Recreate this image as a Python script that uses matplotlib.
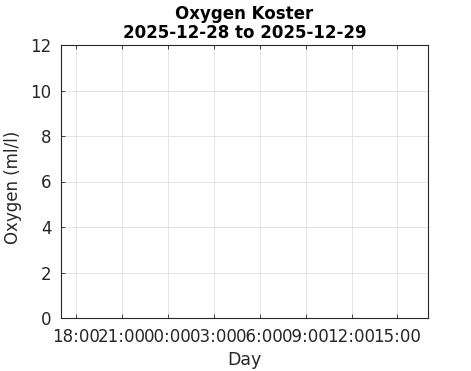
import datetime as dt
import matplotlib
matplotlib.use("Agg")
import matplotlib.pyplot as plt
import matplotlib.dates as mdates

# no measurements for this period
times = []
oxygen = []

t_start = dt.datetime(2025, 12, 28, 17, 0)
t_end = dt.datetime(2025, 12, 29, 17, 0)
y_ticks = [0, 2, 4, 6, 8, 10, 12]

plt.rcParams['font.family'] = ['DejaVu Sans']

fig = plt.figure(figsize=(4.71, 3.71), dpi=100)
ax = fig.add_axes([61 / 471, 1 - 318 / 371, 367 / 471, 273 / 371])

ax.plot(times, oxygen, color='#0072bd', linewidth=1)

ax.set_xlim(t_start, t_end)
ax.set_ylim(0, 12)
ax.set_yticks(y_ticks)
ax.xaxis.set_major_locator(mdates.HourLocator(byhour=range(0, 24, 3)))
ax.xaxis.set_major_formatter(mdates.DateFormatter('%H:%M'))

ax.grid(True, color='#e0e0e0', linewidth=0.6)
ax.set_axisbelow(True)
for s in ax.spines.values():
    s.set_color('#262626')
    s.set_linewidth(0.8)
ax.tick_params(direction='in', length=3, width=0.6, colors='#262626',
               labelsize=12, top=True, right=False)
ax.tick_params(axis='x', pad=7)
ax.tick_params(axis='y', pad=7)

ax.set_xlabel('Day', fontsize=12.5, color='#262626', labelpad=4)
ax.set_ylabel('Oxygen (ml/l)', fontsize=12, color='#262626')
ax.yaxis.set_label_coords(-0.105, 0.48)
ax.set_title('Oxygen Koster\n2025-12-28 to 2025-12-29', fontsize=12,
             fontweight='bold', color='black', pad=5, linespacing=1.05)

fig.savefig('out.png', dpi=100)
